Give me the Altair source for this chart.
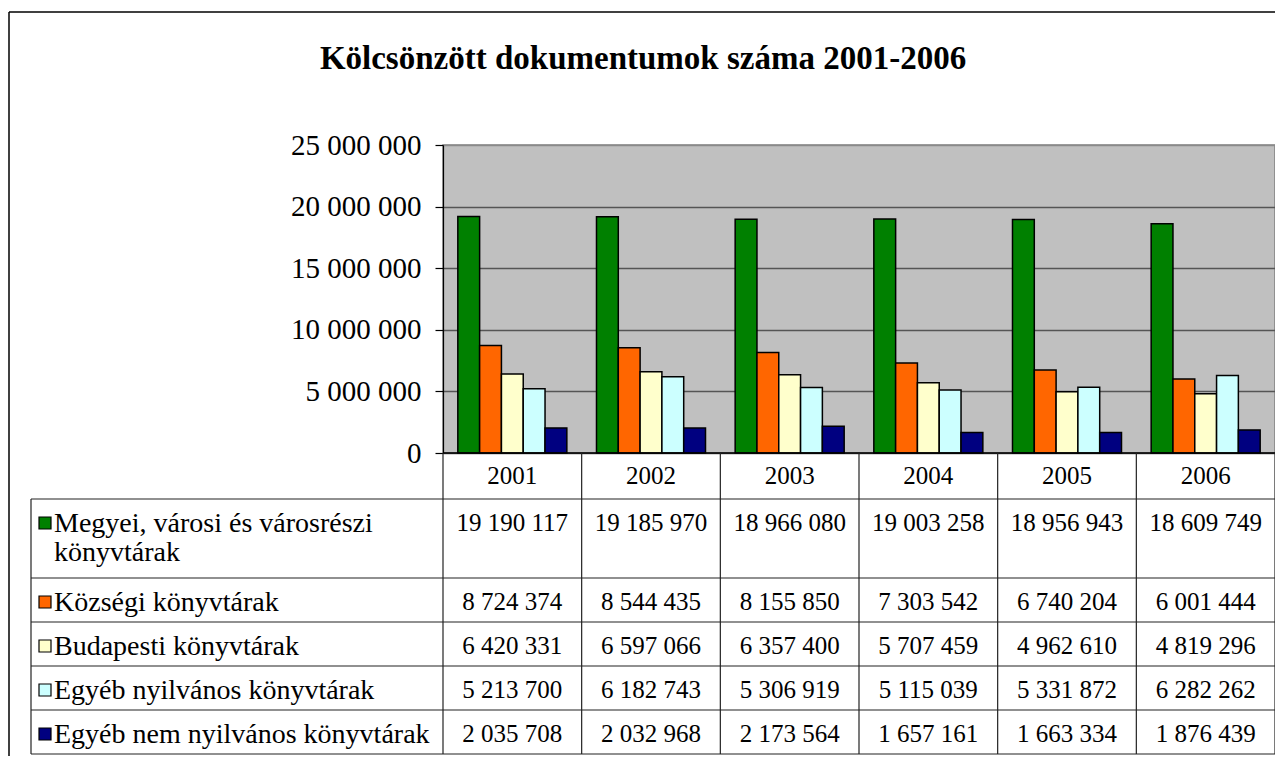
import altair as alt
import pandas as pd

# ---------------- data ----------------
years = ["2001", "2002", "2003", "2004", "2005", "2006"]
series = [
    "Megyei, városi és városrészi könyvtárak",
    "Községi könyvtárak",
    "Budapesti könyvtárak",
    "Egyéb nyilvános könyvtárak",
    "Egyéb nem nyilvános könyvtárak",
]
series_label_lines = [
    ["Megyei, városi és városrészi", "könyvtárak"],
    ["Községi könyvtárak"],
    ["Budapesti könyvtárak"],
    ["Egyéb nyilvános könyvtárak"],
    ["Egyéb nem nyilvános könyvtárak"],
]
colors = ["#008000", "#FF6600", "#FFFFCC", "#CCFFFF", "#000080"]

megyei = [19190117, 19185970, 18966080, 19003258, 18956943, 18609749]
kozsegi = [8724374, 8544435, 8155850, 7303542, 6740204, 6001444]
budapesti = [6420331, 6597066, 6357400, 5707459, 4962610, 4819296]
egyeb_nyilvanos = [5213700, 6182743, 5306919, 5115039, 5331872, 6282262]
egyeb_nem_nyilvanos = [2035708, 2032968, 2173564, 1657161, 1663334, 1876439]
value_lists = [megyei, kozsegi, budapesti, egyeb_nyilvanos, egyeb_nem_nyilvanos]

title_text = "Kölcsönzött dokumentumok száma 2001-2006"
y_ticks = [0, 5000000, 10000000, 15000000, 20000000, 25000000]

# ---------------- layout / style ----------------
W, H = 832, 308
PAD_L, PAD_T, PAD_B = 435, 137, 303
LABEL_COL = 412
HEADER_H = 46
ROW_BASE, ROW_LINE = 9, 35
TEXT_TOP = 12
FONT = "Liberation Serif"
LINE_COLOR = "#222222"


def fmt(v):
    return f"{v:,}".replace(",", " ")


bar_df = pd.DataFrame(
    [{"year": y, "series": s, "value": v}
     for s, vals in zip(series, value_lists) for y, v in zip(years, vals)]
)

row_heights = [ROW_BASE + ROW_LINE * len(lines) for lines in series_label_lines]
row_tops = []
acc = HEADER_H
for h in row_heights:
    row_tops.append(acc)
    acc += h
table_h = acc

cells_df = pd.DataFrame(
    [{"year": y, "series": s, "text": fmt(v), "ty": top + TEXT_TOP}
     for s, vals, top in zip(series, value_lists, row_tops) for y, v in zip(years, vals)]
)
labels_df = pd.DataFrame(
    [{"series": s, "label": "\n".join(lines), "ty": top + TEXT_TOP - 1, "sy": top + TEXT_TOP + 12}
     for s, lines, top in zip(series, series_label_lines, row_tops)]
)
hlines_df = pd.DataFrame({"ty": [HEADER_H] + [t + h for t, h in zip(row_tops, row_heights)]})
years_df = pd.DataFrame({"year": years, "ty": [HEADER_H / 2] * len(years)})
one = pd.DataFrame({"a": [0]})

tscale = alt.Scale(domain=[0, table_h], range=[H, H + table_h], nice=False, zero=False)
x_enc = alt.X("year:N", sort=years, scale=alt.Scale(paddingInner=0, paddingOuter=0), axis=None)
color_enc = alt.Color("series:N", scale=alt.Scale(domain=series, range=colors), legend=None)

bars = alt.Chart(bar_df).mark_bar(stroke="black", strokeWidth=1.5).encode(
    x=x_enc,
    xOffset=alt.XOffset("series:N", sort=series,
                        scale=alt.Scale(paddingInner=0, paddingOuter=0.68)),
    y=alt.Y("value:Q",
            scale=alt.Scale(domain=[0, 25000000], nice=False),
            axis=alt.Axis(values=y_ticks, title=None,
                          labelExpr="replace(replace(format(datum.value, ','), ',', ' '), ',', ' ')",
                          labelFont=FONT, labelFontSize=29, labelColor="black",
                          labelPadding=14, tickSize=8, tickColor="black", tickWidth=1.2,
                          domainColor="black", domainWidth=1.2,
                          grid=True,
                          gridColor={"condition": {"test": "datum.value >= 25000000",
                                                   "value": "#8A8A8A"},
                                     "value": "#555555"},
                          gridWidth=1.5)),
    color=color_enc,
)

row_lines = alt.Chart(hlines_df).mark_rule(color=LINE_COLOR, strokeWidth=1.2).encode(
    x=alt.value(-LABEL_COL), x2=alt.value(W),
    y=alt.Y("ty:Q", scale=tscale, axis=None),
)
header_top = alt.Chart(one).mark_rule(color="black", strokeWidth=1.5).encode(
    x=alt.value(0), x2=alt.value(W), y=alt.value(H)
)
col_lines = alt.Chart(years_df).mark_rule(color=LINE_COLOR, strokeWidth=1.2).encode(
    x=alt.X("year:N", sort=years, bandPosition=0,
            scale=alt.Scale(paddingInner=0, paddingOuter=0), axis=None),
    y=alt.value(H), y2=alt.value(H + table_h),
)
right_border = alt.Chart(one).mark_rule(color=LINE_COLOR, strokeWidth=1.2).encode(
    x=alt.value(W), y=alt.value(H), y2=alt.value(H + table_h)
)
left_border = alt.Chart(one).mark_rule(color=LINE_COLOR, strokeWidth=1.2).encode(
    x=alt.value(-LABEL_COL), y=alt.value(H + HEADER_H), y2=alt.value(H + table_h)
)
frame_top = alt.Chart(one).mark_rule(color="black", strokeWidth=1.5).encode(
    x=alt.value(-PAD_L + 1), x2=alt.value(W), y=alt.value(-PAD_T + 4)
)
frame_left = alt.Chart(one).mark_rule(color="black", strokeWidth=1.5).encode(
    x=alt.value(-PAD_L + 1), y=alt.value(-PAD_T + 4), y2=alt.value(H + PAD_B)
)

year_text = alt.Chart(years_df).mark_text(font=FONT, fontSize=25, color="black",
                                          baseline="middle").encode(
    x=alt.X("year:N", sort=years, scale=alt.Scale(paddingInner=0, paddingOuter=0), axis=None),
    y=alt.Y("ty:Q", scale=tscale, axis=None),
    text="year:N",
)
cell_text = alt.Chart(cells_df).mark_text(font=FONT, fontSize=25, color="black",
                                          baseline="top").encode(
    x=alt.X("year:N", sort=years, scale=alt.Scale(paddingInner=0, paddingOuter=0), axis=None),
    y=alt.Y("ty:Q", scale=tscale, axis=None),
    text="text:N",
)
label_text = alt.Chart(labels_df).mark_text(font=FONT, fontSize=28, color="black",
                                            baseline="top", align="left",
                                            lineBreak="\n", lineHeight=29).encode(
    x=alt.value(-LABEL_COL + 23),
    y=alt.Y("ty:Q", scale=tscale, axis=None),
    text="label:N",
)
squares = alt.Chart(labels_df).mark_square(size=144, stroke="black", strokeWidth=1.2,
                                           opacity=1).encode(
    x=alt.value(-LABEL_COL + 14),
    y=alt.Y("sy:Q", scale=tscale, axis=None),
    color=color_enc,
)
title = alt.Chart(one).mark_text(font=FONT, fontSize=33, fontWeight="bold", color="black",
                                 baseline="middle", align="center").encode(
    x=alt.value(200), y=alt.value(-86), text=alt.value(title_text)
)

chart = alt.layer(
    bars, row_lines, header_top, col_lines, right_border, left_border,
    year_text, cell_text, label_text, squares, title, frame_top, frame_left,
).resolve_scale(y="independent").properties(
    width=W, height=H,
    autosize=alt.AutoSizeParams(type="none"),
    padding={"left": PAD_L, "top": PAD_T, "right": 0, "bottom": PAD_B},
).configure_view(fill="#C0C0C0", stroke="#808080", strokeWidth=1.5)

chart.save("out.html", embed_options={"renderer": "svg", "actions": False})
